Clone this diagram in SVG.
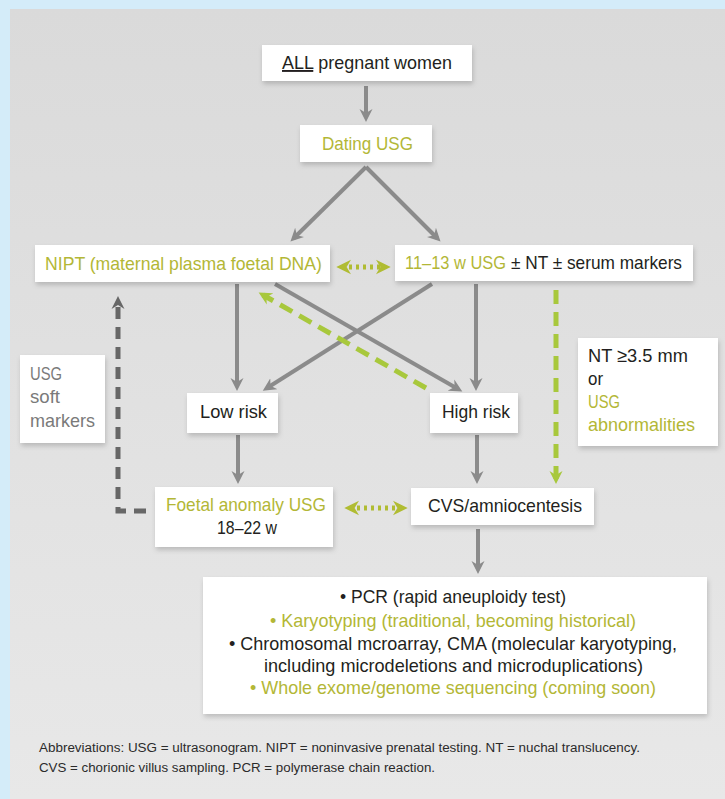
<svg xmlns="http://www.w3.org/2000/svg" width="725" height="799" viewBox="0 0 725 799">
<defs>
<linearGradient id="bg" x1="0" y1="0" x2="0" y2="1">
<stop offset="0" stop-color="#dadada"/>
<stop offset="1" stop-color="#e8e8e8"/>
</linearGradient>
<filter id="sh" x="-20%" y="-30%" width="140%" height="170%">
<feDropShadow dx="1" dy="3" stdDeviation="2.5" flood-color="#000" flood-opacity="0.18"/>
</filter>
<marker id="ag" viewBox="0 0 14 14" refX="8" refY="7" markerWidth="14" markerHeight="14" markerUnits="userSpaceOnUse" orient="auto-start-reverse">
<path d="M0,0.5 L13,7 L0,13.5 L4,7 z" fill="#8b8b8b"/>
</marker>
<marker id="agr" viewBox="0 0 14 14" refX="8" refY="7" markerWidth="16" markerHeight="16" markerUnits="userSpaceOnUse" orient="auto-start-reverse">
<path d="M0,0.5 L13,7 L0,13.5 L4,7 z" fill="#b0bc32"/>
</marker>
<marker id="agl" viewBox="0 0 14 14" refX="8" refY="7" markerWidth="14" markerHeight="14" markerUnits="userSpaceOnUse" orient="auto-start-reverse">
<path d="M0,0.5 L13,7 L0,13.5 L4,7 z" fill="#a8c83c"/>
</marker>
<marker id="agd" viewBox="0 0 14 14" refX="8" refY="7" markerWidth="14" markerHeight="14" markerUnits="userSpaceOnUse" orient="auto-start-reverse">
<path d="M0,0.5 L13,7 L0,13.5 L4,7 z" fill="#676767"/>
</marker>
</defs>
<style>
.box{fill:#ffffff;filter:url(#sh)}
.t{font-family:"Liberation Sans",Arial,sans-serif;font-size:19px;fill:#231f20}
.g{fill:#b3b736}
.gy{fill:#7a7a7a}
.fn{font-family:"Liberation Sans",Arial,sans-serif;font-size:12.5px;fill:#2b2b2b}
.c{stroke:#8b8b8b;stroke-width:4;fill:none;marker-end:url(#ag)}
.gd{stroke:#b0bc32;stroke-width:5;fill:none;stroke-dasharray:3 4;marker-start:url(#agr);marker-end:url(#agr)}
.ld{stroke:#a8c83c;stroke-width:5;fill:none;stroke-dasharray:14 8;marker-end:url(#agl)}
.dd{stroke:#676767;stroke-width:5;fill:none;stroke-dasharray:12 8;marker-end:url(#agd)}
</style>
<rect x="0" y="0" width="725" height="799" fill="#d4ecf9"/>
<rect x="10" y="9" width="715" height="790" fill="url(#bg)"/>

<g id="connectors">
<line class="c" x1="366" y1="86" x2="366" y2="117"/>
<line class="c" x1="366" y1="167" x2="294" y2="238"/>
<line class="c" x1="366" y1="167" x2="437" y2="238"/>
<line class="gd" x1="342" y1="267" x2="385" y2="267"/>
<line class="c" x1="237" y1="284" x2="237" y2="386"/>
<line class="c" x1="476" y1="284" x2="476" y2="386"/>
<line class="c" x1="275" y1="284" x2="458" y2="389"/>
<line class="c" x1="432" y1="284" x2="267" y2="388"/>
<line class="ld" x1="426" y1="388" x2="263" y2="295"/>
<line class="ld" x1="556" y1="290" x2="556" y2="479"/>
<line class="c" x1="238" y1="435" x2="238" y2="479"/>
<line class="c" x1="477" y1="435" x2="477" y2="479"/>
<line class="gd" x1="350" y1="508" x2="402" y2="508"/>
<line class="c" x1="478" y1="529" x2="478" y2="569"/>
<path class="dd" d="M146,511 L118,511 L118,301"/>
</g>

<g id="n1">
<rect class="box" x="262" y="45" width="210" height="36"/>
<text class="t" x="282" y="69" textLength="170" lengthAdjust="spacingAndGlyphs"><tspan text-decoration="underline">ALL</tspan> pregnant women</text>
</g>
<g id="n2">
<rect class="box" x="300" y="125" width="132" height="37"/>
<text class="t g" x="322" y="150" textLength="91" lengthAdjust="spacingAndGlyphs">Dating USG</text>
</g>
<g id="n3">
<rect class="box" x="35" y="245" width="295" height="37"/>
<text class="t g" x="45" y="270" textLength="277" lengthAdjust="spacingAndGlyphs">NIPT (maternal plasma foetal DNA)</text>
</g>
<g id="n4">
<rect class="box" x="395" y="245" width="298" height="36"/>
<text class="t g" x="405" y="269" textLength="101" lengthAdjust="spacingAndGlyphs">11–13 w USG</text>
<text class="t" x="511" y="269" textLength="171" lengthAdjust="spacingAndGlyphs">± NT ± serum markers</text>
</g>
<g id="n5">
<rect class="box" x="187" y="393" width="91" height="40"/>
<text class="t" x="200" y="418" textLength="67" lengthAdjust="spacingAndGlyphs">Low risk</text>
</g>
<g id="n6">
<rect class="box" x="430" y="393" width="88" height="40"/>
<text class="t" x="442" y="418" textLength="68" lengthAdjust="spacingAndGlyphs">High risk</text>
</g>
<g id="n7">
<rect class="box" x="20" y="355" width="85" height="88"/>
<text class="t gy" x="30" y="380" textLength="32" lengthAdjust="spacingAndGlyphs">USG</text>
<text class="t gy" x="30" y="403" textLength="30" lengthAdjust="spacingAndGlyphs">soft</text>
<text class="t gy" x="30" y="427" textLength="65" lengthAdjust="spacingAndGlyphs">markers</text>
</g>
<g id="n8">
<rect class="box" x="578" y="338" width="140" height="108"/>
<text class="t" x="588" y="362" textLength="100" lengthAdjust="spacingAndGlyphs">NT ≥3.5 mm</text>
<text class="t" x="588" y="385" textLength="15" lengthAdjust="spacingAndGlyphs">or</text>
<text class="t g" x="588" y="408" textLength="32" lengthAdjust="spacingAndGlyphs">USG</text>
<text class="t g" x="588" y="431" textLength="107" lengthAdjust="spacingAndGlyphs">abnormalities</text>
</g>
<g id="n9">
<rect class="box" x="155" y="487" width="178" height="60"/>
<text class="t g" x="166" y="511" textLength="160" lengthAdjust="spacingAndGlyphs">Foetal anomaly USG</text>
<text class="t" x="217" y="534" textLength="60" lengthAdjust="spacingAndGlyphs">18–22 w</text>
</g>
<g id="n10">
<rect class="box" x="411" y="488" width="183" height="37"/>
<text class="t" x="428" y="512" textLength="154" lengthAdjust="spacingAndGlyphs">CVS/amniocentesis</text>
</g>
<g id="n11">
<rect class="box" x="203" y="577" width="504" height="137"/>
<text class="t" x="340" y="603" textLength="226" lengthAdjust="spacingAndGlyphs">• PCR (rapid aneuploidy test)</text>
<text class="t g" x="270" y="627" textLength="366" lengthAdjust="spacingAndGlyphs">• Karyotyping (traditional, becoming historical)</text>
<text class="t" x="229" y="650" textLength="448" lengthAdjust="spacingAndGlyphs">• Chromosomal mcroarray, CMA (molecular karyotyping,</text>
<text class="t" x="264" y="672" textLength="379" lengthAdjust="spacingAndGlyphs">including microdeletions and microduplications)</text>
<text class="t g" x="250" y="694" textLength="406" lengthAdjust="spacingAndGlyphs">• Whole exome/genome sequencing (coming soon)</text>
</g>
<g id="footnote">
<text class="fn" x="39" y="752" textLength="601" lengthAdjust="spacingAndGlyphs">Abbreviations: USG = ultrasonogram. NIPT = noninvasive prenatal testing. NT = nuchal translucency.</text>
<text class="fn" x="39" y="772" textLength="396" lengthAdjust="spacingAndGlyphs">CVS = chorionic villus sampling. PCR = polymerase chain reaction.</text>
</g>
</svg>
